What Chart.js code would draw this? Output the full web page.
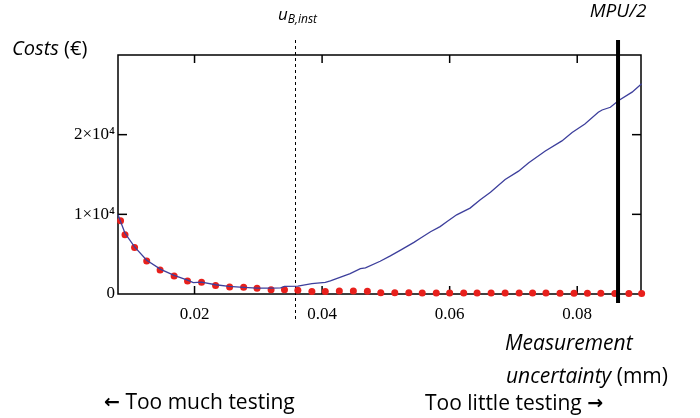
<!DOCTYPE html>
<html>
<head>
<meta charset="utf-8">
<script src="https://cdn.jsdelivr.net/npm/chart.js@4.4.1/dist/chart.umd.min.js"></script>
<style>
  html, body { margin: 0; padding: 0; background: #fff; }
</style>
</head>
<body>
<canvas id="costChart" width="700" height="418"></canvas>
<script>
// total cost curve (blue line)
const lineUncertainty = [0.0080, 0.0091, 0.0106, 0.0125, 0.0147, 0.0168, 0.0190, 0.0198, 0.0211, 0.0233,
  0.0254, 0.0277, 0.0298, 0.0320, 0.0335, 0.0341, 0.0362, 0.0384, 0.0405, 0.0413, 0.0429, 0.0444,
  0.0460, 0.0468, 0.0491, 0.0507, 0.0523, 0.0544, 0.0554, 0.0570, 0.0585, 0.0596, 0.0611, 0.0632,
  0.0648, 0.0664, 0.0687, 0.0708, 0.0724, 0.0750, 0.0776, 0.0792, 0.0812, 0.0833, 0.0839, 0.0852,
  0.0865, 0.0886, 0.0901];
const totalCost = [9940, 7620, 5920, 4240, 3100, 2340, 1710, 1420, 1490, 1160,
  950, 820, 730, 730, 780, 950, 990, 1290, 1460, 1650, 2130, 2560,
  3190, 3270, 4110, 4790, 5510, 6480, 6990, 7820, 8460, 9090, 9940, 10780,
  11840, 12760, 14370, 15420, 16480, 17950, 19220, 20280, 21330, 22810, 23100, 23440,
  24280, 25340, 26390];

// testing cost (red dots)
const dotUncertainty = [0.0084, 0.0091, 0.0106, 0.0125, 0.0146, 0.0168, 0.0189, 0.0211, 0.0233, 0.0255,
  0.0277, 0.0298, 0.0320, 0.0341, 0.0362, 0.0384, 0.0405, 0.0427, 0.0449, 0.0471,
  0.0492, 0.0514, 0.0536, 0.0557, 0.0579, 0.0600, 0.0622, 0.0643, 0.0665, 0.0687,
  0.0709, 0.0730, 0.0751, 0.0773, 0.0795, 0.0816, 0.0837, 0.0859, 0.0881, 0.0901];
const testingCost = [9200, 7440, 5850, 4150, 3010, 2250, 1620, 1490, 1080, 870,
  840, 730, 530, 530, 480, 320, 320, 380, 380, 360,
  160, 150, 150, 140, 140, 130, 130, 120, 120, 120,
  110, 110, 110, 100, 100, 90, 80, 60, 60, 60];

const xTicks = [0.02, 0.04, 0.06, 0.08];
const xTickLabels = ['0.02', '0.04', '0.06', '0.08'];
const yTicks = [0, 10000, 20000];
const yTickLabels = ['0', '1×10⁴', '2×10⁴'];

const uBInst = 0.0357;
const mpuHalf = 0.0864;

const sans = "'Open Sans', 'Noto Sans', sans-serif";
const serif = "'Liberation Serif', 'DejaVu Serif', serif";
const arrowFont = "bold 19px 'DejaVu Sans', sans-serif";

function toPoints(xs, ys) {
  return xs.map((v, i) => ({ x: v, y: ys[i] }));
}

function drawLine(ctx, x1, y1, x2, y2) {
  ctx.beginPath();
  ctx.moveTo(x1, y1);
  ctx.lineTo(x2, y2);
  ctx.stroke();
}

// draws pieces of text one after the other, returns end x
function drawRun(ctx, parts, x, y) {
  parts.forEach(p => {
    ctx.font = p.font;
    ctx.fillText(p.text, x, y + (p.dy || 0));
    x += ctx.measureText(p.text).width;
  });
  return x;
}

const frame = {
  id: 'frame',
  beforeDatasetsDraw(chart) {
    const { ctx, chartArea: a, scales: { x, y } } = chart;
    ctx.save();
    ctx.strokeStyle = '#000';

    const ux = Math.round(x.getPixelForValue(uBInst)) + 0.5;
    ctx.lineWidth = 1;
    ctx.setLineDash([3, 3]);
    drawLine(ctx, ux, 40, ux, 320);
    ctx.setLineDash([]);

    ctx.lineWidth = 1.5;
    ctx.strokeRect(a.left, a.top, a.right - a.left, a.bottom - a.top);

    xTicks.forEach(v => {
      const px = x.getPixelForValue(v);
      drawLine(ctx, px, a.bottom, px, a.bottom - 8);
      drawLine(ctx, px, a.top, px, a.top + 8);
    });
    yTicks.slice(1).forEach(v => {
      const py = y.getPixelForValue(v);
      drawLine(ctx, a.left, py, a.left + 9, py);
      drawLine(ctx, a.right, py, a.right - 9, py);
    });
    ctx.restore();
  },
  afterDatasetsDraw(chart) {
    const { ctx, scales: { x } } = chart;
    ctx.save();
    const mx = x.getPixelForValue(mpuHalf);
    ctx.strokeStyle = '#000';
    ctx.lineWidth = 4;
    drawLine(ctx, mx, 40, mx, 303);

    ctx.fillStyle = '#000';
    ctx.textBaseline = 'alphabetic';
    drawRun(ctx, [
      { text: 'Costs', font: 'italic 20px ' + sans },
      { text: ' (€)', font: '20px ' + sans }
    ], 12, 55);

    drawRun(ctx, [
      { text: 'u', font: 'italic 17px ' + sans },
      { text: 'B,inst', font: 'italic 12px ' + sans, dy: 3 }
    ], 278, 20);

    ctx.textAlign = 'center';
    ctx.font = 'italic 19px ' + sans;
    ctx.fillText('MPU/2', mx, 17);
    ctx.textAlign = 'left';

    drawRun(ctx, [{ text: 'Measurement', font: 'italic 21px ' + sans }], 505, 350);
    drawRun(ctx, [
      { text: 'uncertainty', font: 'italic 21px ' + sans },
      { text: ' (mm)', font: '21px ' + sans }
    ], 506, 383);

    drawRun(ctx, [
      { text: '←', font: arrowFont, dy: -1 },
      { text: ' Too much testing', font: '21px ' + sans }
    ], 104, 409);
    drawRun(ctx, [
      { text: 'Too little testing ', font: '21px ' + sans },
      { text: '→', font: arrowFont, dy: -1 }
    ], 425, 410);
    ctx.restore();
  }
};

new Chart(document.getElementById('costChart'), {
  type: 'scatter',
  data: {
    datasets: [
      {
        label: 'Total cost',
        data: toPoints(lineUncertainty, totalCost),
        showLine: true,
        borderColor: '#3d3f9c',
        borderWidth: 1.3,
        pointRadius: 0,
        tension: 0,
        clip: false,
        order: 0
      },
      {
        label: 'Testing cost',
        data: toPoints(dotUncertainty, testingCost),
        showLine: false,
        pointRadius: 3.5,
        pointBackgroundColor: '#e8201c',
        pointBorderWidth: 0,
        clip: false,
        order: 1
      }
    ]
  },
  options: {
    responsive: false,
    animation: false,
    layout: { padding: { top: 55, right: 59, left: 0, bottom: 0 } },
    plugins: {
      legend: { display: false },
      tooltip: { enabled: false }
    },
    scales: {
      x: {
        type: 'linear',
        min: 0.008,
        max: 0.09,
        afterBuildTicks: s => { s.ticks = xTicks.map(v => ({ value: v })); },
        afterFit: s => { s.height = 124; },
        grid: { display: false, drawTicks: false },
        border: { display: false },
        ticks: {
          padding: 10,
          color: '#000',
          font: { family: serif, size: 17 },
          maxRotation: 0,
          callback: (v, i) => xTickLabels[i]
        }
      },
      y: {
        type: 'linear',
        min: 0,
        max: 30000,
        afterBuildTicks: s => { s.ticks = yTicks.map(v => ({ value: v })); },
        afterFit: s => { s.width = 118; },
        grid: { display: false, drawTicks: false },
        border: { display: false },
        ticks: {
          padding: 3,
          color: '#000',
          font: { family: serif, size: 17 },
          callback: (v, i) => yTickLabels[i]
        }
      }
    }
  },
  plugins: [frame]
});
</script>
</body>
</html>
